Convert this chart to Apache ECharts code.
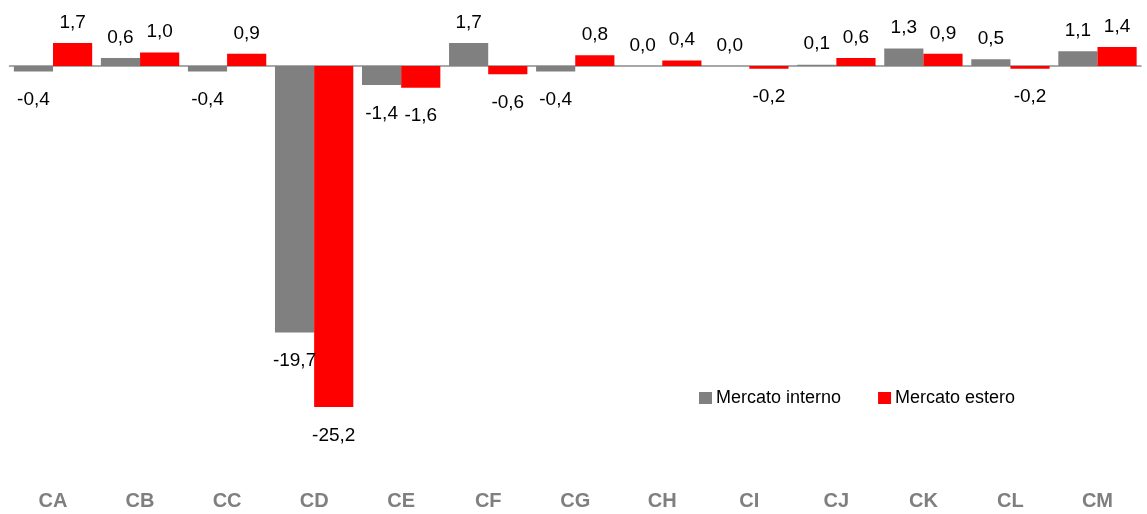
<!DOCTYPE html>
<html>
<head>
<meta charset="utf-8">
<script src="https://cdn.jsdelivr.net/npm/echarts@6/dist/echarts.min.js"></script>
<style>
html,body{margin:0;padding:0;background:#fff;}
#c{width:1147px;height:514px;}
</style>
</head>
<body>
<div id="c"></div>
<script>
const categories = ['CA','CB','CC','CD','CE','CF','CG','CH','CI','CJ','CK','CL','CM'];
const interno = [-0.4, 0.6, -0.4, -19.7, -1.4, 1.7, -0.4, 0.0, 0.0, 0.1, 1.3, 0.5, 1.1];
const estero  = [1.7, 1.0, 0.9, -25.2, -1.6, -0.6, 0.8, 0.4, -0.2, 0.6, 0.9, -0.2, 1.4];
const seriesNames = ['Mercato interno', 'Mercato estero'];

const FONT = '"Liberation Sans Narrow", "Arial Narrow", "Liberation Sans", Arial, sans-serif';

function toData(arr) {
  return arr.map(v => ({
    value: v,
    label: v < 0 ? {position: 'bottom', distance: 19} : {position: 'top', distance: 11}
  }));
}
const labelCfg = {
  show: true,
  fontFamily: FONT,
  fontSize: 19,
  color: '#000',
  formatter: p => p.value.toFixed(1).replace('.', ',')
};

const chart = echarts.init(document.getElementById('c'), null, {renderer: 'canvas'});
chart.setOption({
  animation: false,
  backgroundColor: '#fff',
  grid: {left: 9.5, right: 6, top: 11.9, bottom: 42, containLabel: false},
  legend: {
    left: 694, top: 384,
    itemWidth: 13, itemHeight: 12, itemGap: 37,
    icon: 'rect',
    textStyle: {fontFamily: FONT, fontSize: 18, color: '#000', padding: [0,0,0,-1]},
    data: seriesNames
  },
  xAxis: [
    {
      type: 'category', data: categories,
      axisLine: {onZero: true, lineStyle: {color: '#8c8c8c', width: 1.5}},
      axisTick: {show: false}, axisLabel: {show: false}
    },
    {
      type: 'category', data: categories, position: 'bottom',
      axisLine: {show: false, onZero: false}, axisTick: {show: false},
      axisLabel: {fontFamily: FONT, fontSize: 20, fontWeight: 'bold', color: '#7f7f7f', margin: 19}
    }
  ],
  yAxis: {
    type: 'value', min: -30, max: 4, show: false,
    splitLine: {show: false}
  },
  series: [
    {
      name: seriesNames[0], type: 'bar', xAxisIndex: 0,
      data: toData(interno),
      itemStyle: {color: '#808080'},
      barGap: '0%', barCategoryGap: '10%',
      label: labelCfg
    },
    {
      name: seriesNames[1], type: 'bar', xAxisIndex: 0,
      data: toData(estero),
      itemStyle: {color: '#ff0000'},
      barGap: '0%', barCategoryGap: '10%',
      label: labelCfg
    }
  ]
});
</script>
</body>
</html>
